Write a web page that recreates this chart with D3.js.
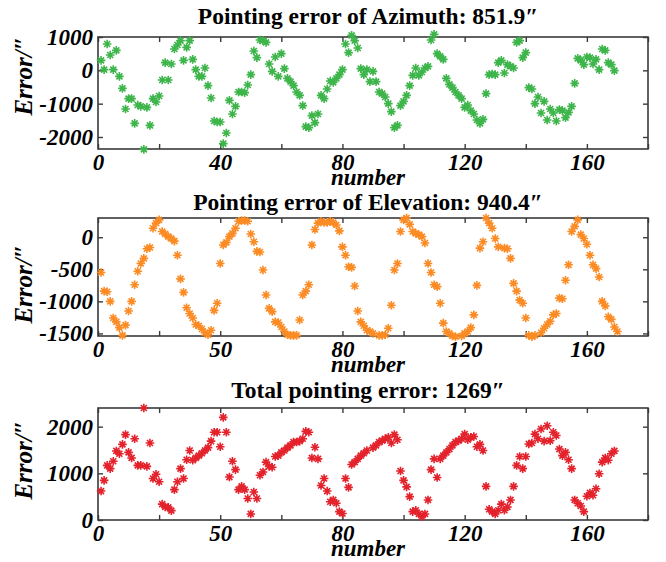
<!DOCTYPE html>
<html lang="en">
<head>
<meta charset="utf-8">
<title>Pointing error</title>
<script src="https://d3js.org/d3.v7.min.js"></script>
<style>
  body { margin: 0; background: white; }
  text { font-family: "Liberation Serif", "Times New Roman", serif; }
</style>
</head>
<body>
<script>
// one value per sample number (1, 2, 3 ...), in arc-seconds; null = no marker
const azimuth = [
  300, 20, 790, 460, 20, 600, -180, -540, -1160, -850,
  -850, -1590, -1040, -1080, -2370, -1110, -1650, -850, -950, -770,
  -290, 230, -290, 190, 640, 760, 890, 300, 690, 890,
  330, 20, -180, -180, 70, -460, -830, -1520, -1550, -1550,
  -2200, -1880, -900, -1310, -1080, -650, -650, -670, -440, -130,
  580, 380, 910, 890, 840, 190, -30, 400, -180, 500,
  50, -240, -340, -460, -650, -750, -1060, -1690, -1720, -1360,
  -1570, -1310, -750, -850, -560, -320, -360, -240, -130, 20,
  790, 530, 1050, 890, 670, 50, -130, 20, -340, -30,
  -340, -650, -700, -800, -1000, -1240, -1720, -1650, -1060, -930,
  -750, -460, -150, 70, -150, -50, 70, 120, 910, 1080,
  500, 420, 330, -240, -420, -520, -650, -750, -850, -1110,
  -1040, -1210, -1310, -1490, -1590, -1470, -700, -130, -110, -130,
  230, 300, -80, 170, 120, 70, 840, 890, 380, 530,
  -520, -560, -1000, -800, -1280, -930, -1490, -1160, -1280, -1520,
  -1180, -1210, -1420, -1260, -1080, -390, 360, 300, 170, 400,
  380, 190, 330, 20, 640, 600, 230, 170, -10
];

const elevation = [
  -550, -840, -850, -1000, -1260, -1320, -1410, -1530, -1370, -1150,
  -1000, -740, -530, -410, -330, -180, -160, 140, 220, 270,
  90, 50, 10, -20, -60, -280, -650, -860, -1100, -1190,
  -1260, -1360, -1380, -1430, -1490, -1520, -1450, -1140, -1030, -410,
  -120, -80, 10, 60, 140, 250, 260, 260, 250, 50,
  -70, -220, -230, -510, -900, -1110, -1160, -1320, -1330, -1400,
  -1470, -1520, -1530, -1530, -1530, -1290, -900, -840, -740, -120,
  120, 220, 250, 230, 230, 250, 230, 190, 100, -150,
  -280, -460, -470, -760, -1150, -1320, -1380, -1450, -1470, -1500,
  null, -1530, -1530, -1520, -1420, -1060, -510, -410, 90, 270,
  300, 200, 90, 60, 40, 10, -90, -410, -550, -740,
  -770, -1030, -1340, -1470, -1500, -1540, -1550, null, -1540, -1500,
  -1470, -1410, -1210, -750, -170, -70, 300, 220, 140, -20,
  -150, null, -170, -180, -330, -720, -840, -980, -1030, -1260,
  -1530, -1550, -1530, null, -1490, -1420, -1360, -1310, -1210, -1190,
  -950, -960, -670, -430, 90, 170, 270, 40, -20, -110,
  -280, -430, -490, -620, -1000, -1070, -1240, -1280, -1400, -1470
];

const total = [
  620, 850, 1170, 1100, 1260, 1480, 1420, 1620, 1830, 1450,
  1330, 1740, 1170, 1170, 2400, 1150, 1650, 890, 980, 820,
  340, 280, 270, 200, 650, 820, 1100, 890, 1290, 1490,
  1280, 1330, 1380, 1430, 1490, 1550, 1690, 1880, 1880, 1570,
  2200, 1880, 920, 1260, 1080, 650, 720, 650, 460, 130,
  600, 460, 960, 1030, 1240, 1150, 1130, 1360, 1380, 1450,
  1490, 1550, 1600, 1670, 1670, 1690, 1740, 1900, 1880, 1330,
  1560, 1310, 740, 890, 620, 390, 430, 360, 180, 140,
  890, 700, 1190, 1240, 1310, 1380, 1430, 1490, null, 1550,
  1600, 1670, 1700, 1740, 1770, 1650, 1830, 1720, 1050, 850,
  710, 500, 180, 210, 130, 70, 130, 430, 1080, 1310,
  910, 1310, 1380, 1450, 1520, 1600, 1670, 1700, 1740, 1840,
  1720, 1770, 1790, 1570, 1620, 1490, 720, 230, 180, 130,
  210, 340, 210, 280, 430, 720, 1170, 1360, 1100, 1360,
  1630, 1650, 1840, 1740, 1950, 1690, 2020, 1700, 1880, 1810,
  1520, 1380, 1450, 1290, 1100, 430, 360, 300, 180, 510,
  580, 530, 670, 990, 1240, 1330, 1280, 1420, 1480
];

const titles = [
  "Pointing error of Azimuth: 851.9\u2033",
  "Pointing error of Elevation: 940.4\u2033",
  "Total pointing error: 1269\u2033"
];
const yTicksAz = [1000, 0, -1000, -2000];
const yTicksEl = [0, -500, -1000, -1500];
const yTicksTot = [0, 1000, 2000];
const xTickValues = [0, 40, 80, 120, 160];
const xTickLabelsAz = ["0", "40", "80", "120", "160"];
const xTickLabelsOther = ["0", "50", "80", "120", "160"];

const w = 666;
const h = 562;
const plotLeft = 98;
const plotRight = 648;

const panels = [
  {values: azimuth, title: titles[0], color: "#3db54a", domain: [-2360, 1000], yTicks: yTicksAz,
   xLabels: xTickLabelsAz, top: 37, bottom: 149, titleY: 24, labelY: 76},
  {values: elevation, title: titles[1], color: "#fb8b24", domain: [-1540, 300], yTicks: yTicksEl,
   xLabels: xTickLabelsOther, top: 218, bottom: 336, titleY: 210, labelY: 284},
  {values: total, title: titles[2], color: "#e3222c", domain: [0, 2400], yTicks: yTicksTot,
   xLabels: xTickLabelsOther, top: 408, bottom: 520, titleY: 398, labelY: 460}
];

const svg = d3.select("body")
              .append("svg")
              .attr("width", w)
              .attr("height", h);

svg.append("rect")
   .attr("width", w)
   .attr("height", h)
   .attr("fill", "white");

// matlab style '*' marker
const star = "M-4.3,0H4.3M0,-4.3V4.3M-3,-3L3,3M-3,3L3,-3";

function drawPanel(p) {
  const xScale = d3.scaleLinear().domain([0, 180]).range([plotLeft, plotRight]);
  const yScale = d3.scaleLinear().domain(p.domain).range([p.bottom, p.top]);
  const g = svg.append("g");

  const xTicks = d3.range(0, 181, 20);

  // bottom axis with labels
  g.append("g")
   .attr("class", "axis")
   .attr("transform", `translate(0, ${p.bottom})`)
   .call(d3.axisBottom(xScale)
           .tickValues(xTicks)
           .tickSizeInner(-5)
           .tickSizeOuter(0)
           .tickPadding(5)
           .tickFormat(d => {
             const i = xTickValues.indexOf(d);
             return i < 0 ? "" : p.xLabels[i];
           }));

  g.append("g")
   .attr("class", "axis")
   .attr("transform", `translate(0, ${p.top})`)
   .call(d3.axisTop(xScale).tickValues(xTicks).tickSizeInner(-5).tickSizeOuter(0).tickFormat(""));

  g.append("g")
   .attr("class", "axis")
   .attr("transform", `translate(${plotLeft}, 0)`)
   .call(d3.axisLeft(yScale).tickValues(p.yTicks).tickSizeInner(-5).tickSizeOuter(0)
           .tickPadding(5).tickFormat(d => String(d)));

  g.append("g")
   .attr("class", "axis")
   .attr("transform", `translate(${plotRight}, 0)`)
   .call(d3.axisRight(yScale).tickValues(p.yTicks).tickSizeInner(-5).tickSizeOuter(0).tickFormat(""));

  // frame
  g.append("rect")
   .attr("x", plotLeft)
   .attr("y", p.top)
   .attr("width", plotRight - plotLeft)
   .attr("height", p.bottom - p.top)
   .attr("fill", "none")
   .attr("stroke", "#3a3a3a")
   .attr("stroke-width", 1.6);

  g.selectAll(".axis path").remove();
  g.selectAll(".axis line").attr("stroke", "#3a3a3a").attr("stroke-width", 1.4);
  g.selectAll(".axis text")
   .attr("fill", "black")
   .style("font-family", '"Liberation Serif", serif')
   .style("font-size", "23px")
   .style("font-weight", "bold")
   .style("font-style", "italic");

  // markers
  g.append("g")
   .selectAll("path")
   .data(p.values.map((v, i) => ({n: i + 1, v: v})).filter(d => d.v !== null))
   .enter()
   .append("path")
   .attr("d", star)
   .attr("transform", d => `translate(${xScale(d.n)}, ${yScale(d.v)})`)
   .attr("fill", "none")
   .attr("stroke", p.color)
   .attr("stroke-width", 1.6);

  // title
  g.append("text")
   .attr("x", 368)
   .attr("y", p.titleY)
   .attr("text-anchor", "middle")
   .style("font-size", "23.5px")
   .style("font-weight", "bold")
   .text(p.title);

  // axis titles
  g.append("text")
   .attr("x", 368)
   .attr("y", p.bottom + 36)
   .attr("text-anchor", "middle")
   .style("font-size", "23px")
   .style("font-weight", "bold")
   .style("font-style", "italic")
   .text("number");

  g.append("text")
   .attr("transform", `translate(32, ${p.labelY}) rotate(-90)`)
   .attr("text-anchor", "middle")
   .style("font-size", "25px")
   .style("font-weight", "bold")
   .style("font-style", "italic")
   .text("Error/\u2033");
}

panels.forEach(drawPanel);
</script>
</body>
</html>
